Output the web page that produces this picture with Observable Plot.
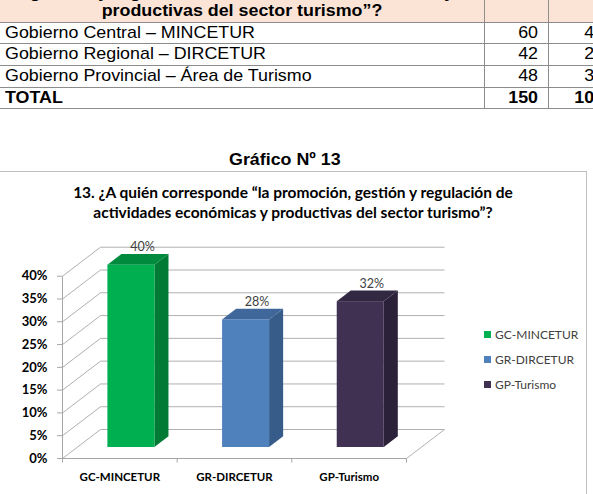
<!DOCTYPE html>
<html><head><meta charset="utf-8">
<script src="https://cdn.jsdelivr.net/npm/d3@7"></script>
<script src="https://cdn.jsdelivr.net/npm/@observablehq/plot@0.6"></script>
<style>
html,body{margin:0;padding:0;background:#fff;}
body{width:593px;height:494px;overflow:hidden;position:relative;font-family:"Liberation Sans",Arial,sans-serif;color:#000;}
.abs{position:absolute;white-space:nowrap;}
.hl{position:absolute;height:1px;background:#8c8c8c;}
.vl{position:absolute;width:1px;background:#8c8c8c;}
.cell{position:absolute;white-space:nowrap;font-size:17px;line-height:22px;}
#frame{position:absolute;left:-1px;top:171px;width:588px;height:400px;border:1px solid #bfbfbf;box-sizing:border-box;}
#ctitle{position:absolute;left:0;top:182px;width:586px;text-align:center;font-family:Lato,sans-serif;font-weight:bold;font-size:15.5px;line-height:20px;color:#000;white-space:nowrap;}
#chart{position:absolute;left:0;top:225px;}
#chart svg{overflow:visible;}
#legend{position:absolute;left:484px;top:327px;width:105px;font-family:Lato,sans-serif;font-size:12px;color:#404040;}
#legend div{height:25px;line-height:16px;position:relative;white-space:nowrap;}
#legend span.sw{position:absolute;left:0;top:4px;width:7px;height:7px;}
#legend span.tx{position:absolute;left:11px;top:0;white-space:nowrap;}
[aria-label="y-axis tick"], [aria-label="x-axis tick"]{stroke:#a6a6a6;}
[aria-label="y-axis tick label"], [aria-label="y-axis"] text{font-weight:bold;font-size:13px;fill:#000;}
[aria-label="x-axis tick label"], [aria-label="x-axis"] text{font-weight:bold;font-size:11.5px;fill:#000;}
</style></head><body>
<script>
// ---- data ----
const tableHeader = ["gestión y regulación de actividades económicas y", "productivas del sector turismo”?"];
const tableRows = ["Gobierno Central – MINCETUR", "Gobierno Regional – DIRCETUR", "Gobierno Provincial – Área de Turismo"];
const counts = [60, 42, 48];
const totalLabel = "TOTAL";
const totalCount = 150;
const categories = ["GC-MINCETUR", "GR-DIRCETUR", "GP-Turismo"];
const percents = [40, 28, 32];
const yTicks = [0, 5, 10, 15, 20, 25, 30, 35, 40];
const figureTitle = "Gráfico Nº 13";
const chartTitle = ["13. ¿A quién corresponde “la promoción, gestión y regulación de", "actividades económicas y productivas del sector turismo”?"];
const frontColors = ["#00b050", "#4f81bd", "#403152"];
const sideColors = ["#007a35", "#375c89", "#2b2138"];
const topColors = ["#008a3e", "#3f679a", "#332842"];

// ---- table (HTML) ----
const body = document.body;
function el(cls, css, text) {
  const d = document.createElement("div");
  d.className = cls;
  Object.assign(d.style, css);
  if (text != null) d.textContent = text;
  body.appendChild(d);
  return d;
}
el("abs", {left: "0px", top: "0px", width: "593px", height: "22px", background: "#fbe4d5"});
const rowTops = [22, 43, 65, 87];
const rowBottom = 108;
[...rowTops, rowBottom].forEach(y => el("hl", {left: "0px", top: y + "px", width: "593px"}));
[484, 548].forEach(x => el("vl", {left: x + "px", top: "0px", height: rowBottom + "px"}));
const stretchL = {transform: "scaleX(1.05)", transformOrigin: "left center"};
const stretchR = {transform: "scaleX(1.05)", transformOrigin: "right center"};
const stretchC = {transform: "scaleX(1.05)", transformOrigin: "center center"};
// header lines
el("cell", {left: "0px", width: "484px", textAlign: "center", top: "-18px", fontWeight: "bold", ...stretchC}, tableHeader[0]);
el("cell", {left: "0px", width: "484px", textAlign: "center", top: "0px", fontWeight: "bold", ...stretchC}, tableHeader[1]);
const labels = [...tableRows, totalLabel];
const nums = [...counts, totalCount];
const pcts = [...percents, percents.reduce((a, b) => a + b, 0)];
labels.forEach((t, i) => {
  const bold = i === labels.length - 1 ? "bold" : "normal";
  el("cell", {left: "5px", top: rowTops[i] + "px", fontWeight: bold, ...stretchL}, t);
  el("cell", {left: "380px", width: "158px", textAlign: "right", top: rowTops[i] + "px", fontWeight: bold, ...stretchR}, String(nums[i]));
  el("cell", {left: "505px", width: "115px", textAlign: "right", top: rowTops[i] + "px", fontWeight: bold, ...stretchR}, pcts[i] + "%");
});

// ---- figure title ----
el("abs", {left: "229px", top: "149px", fontSize: "17px", fontWeight: "bold", lineHeight: "22px", ...stretchL}, figureTitle);

// ---- chart frame & title ----
el("", {}, null).id = "frame";
const ct = el("", {}, null); ct.id = "ctitle";
ct.innerHTML = chartTitle.join("<br>");

// ---- 3D bar chart with Plot ----
const DX = 0.3314;   // depth offset in x units
const DY = 6.36;     // depth offset in y units
const F0 = 0.38, F1 = 0.75; // bar depth extent (fraction of floor depth)
const BL = 0.27, BR = 0.68; // bar extent within category band
const bars = categories.map((c, i) => ({c, i, v: percents[i]}));

const marks = [];
marks.push(Plot.link(yTicks, {x1: () => DX, x2: () => 3 + DX, y1: t => t + DY, y2: t => t + DY, stroke: "#b0b0b0", strokeWidth: 1}));
marks.push(Plot.link(yTicks, {x1: () => 0, y1: t => t, x2: () => DX, y2: t => t + DY, stroke: "#b0b0b0", strokeWidth: 1}));
marks.push(Plot.link([0], {x1: () => 0, x2: () => 3, y1: () => 0, y2: () => 0, stroke: "#a6a6a6"}));
marks.push(Plot.link([0], {x1: () => 3, x2: () => 3 + DX, y1: () => 0, y2: () => DY, stroke: "#b0b0b0"}));
marks.push(Plot.link([0], {x1: () => 0, x2: () => 0, y1: () => 0, y2: () => 40, stroke: "#a6a6a6"}));
marks.push(Plot.link([0, 1, 2, 3], {x1: d => d, x2: d => d, y1: () => 0, y2: () => -0.9, stroke: "#a6a6a6"}));
bars.forEach(b => {
  const xl = b.i + BL, xr = b.i + BR;
  const side = [F0, F1].map(f => ({x: xr + f * DX, y1: f * DY, y2: b.v + f * DY}));
  const top = [F0, F1].map(f => ({y: b.v + f * DY, x1: xl + f * DX, x2: xr + f * DX}));
  marks.push(Plot.areaY(side, {x: "x", y1: "y1", y2: "y2", fill: sideColors[b.i]}));
  marks.push(Plot.areaX(top, {y: "y", x1: "x1", x2: "x2", fill: topColors[b.i]}));
  marks.push(Plot.rect([b], {x1: () => xl + F0 * DX, x2: () => xr + F0 * DX, y1: () => F0 * DY, y2: d => d.v + F0 * DY, fill: frontColors[b.i]}));
});
marks.push(Plot.text(bars, {
  x: b => b.i + (BL + BR) / 2 + 0.67 * DX,
  y: b => b.v + DY,
  text: b => b.v + "%",
  fill: "#404040", fontSize: 12.5, fontWeight: "normal"
}));

const chart = Plot.plot({
  width: 593, height: 269,
  marginLeft: 62, marginRight: 187, marginTop: 50.7, marginBottom: 36,
  style: {fontFamily: "Lato, sans-serif", fontSize: "12px", background: "transparent", overflow: "visible"},
  x: {type: "linear", domain: [0, 3], ticks: [0.5, 1.5, 2.5], tickFormat: d => categories[Math.floor(d)], tickSize: 0, tickPadding: 14, label: null},
  y: {domain: [0, 40], ticks: yTicks, tickFormat: d => d + "%", tickSize: 5, tickPadding: 10, label: null},
  marks
});
const holder = el("", {}, null); holder.id = "chart";
holder.appendChild(chart);

// ---- legend ----
const lg = el("", {}, null); lg.id = "legend";
categories.forEach((c, i) => {
  const row = document.createElement("div");
  const sw = document.createElement("span"); sw.className = "sw"; sw.style.background = frontColors[i];
  const tx = document.createElement("span"); tx.className = "tx"; tx.textContent = c;
  row.appendChild(sw); row.appendChild(tx); lg.appendChild(row);
});
</script>
</body></html>
